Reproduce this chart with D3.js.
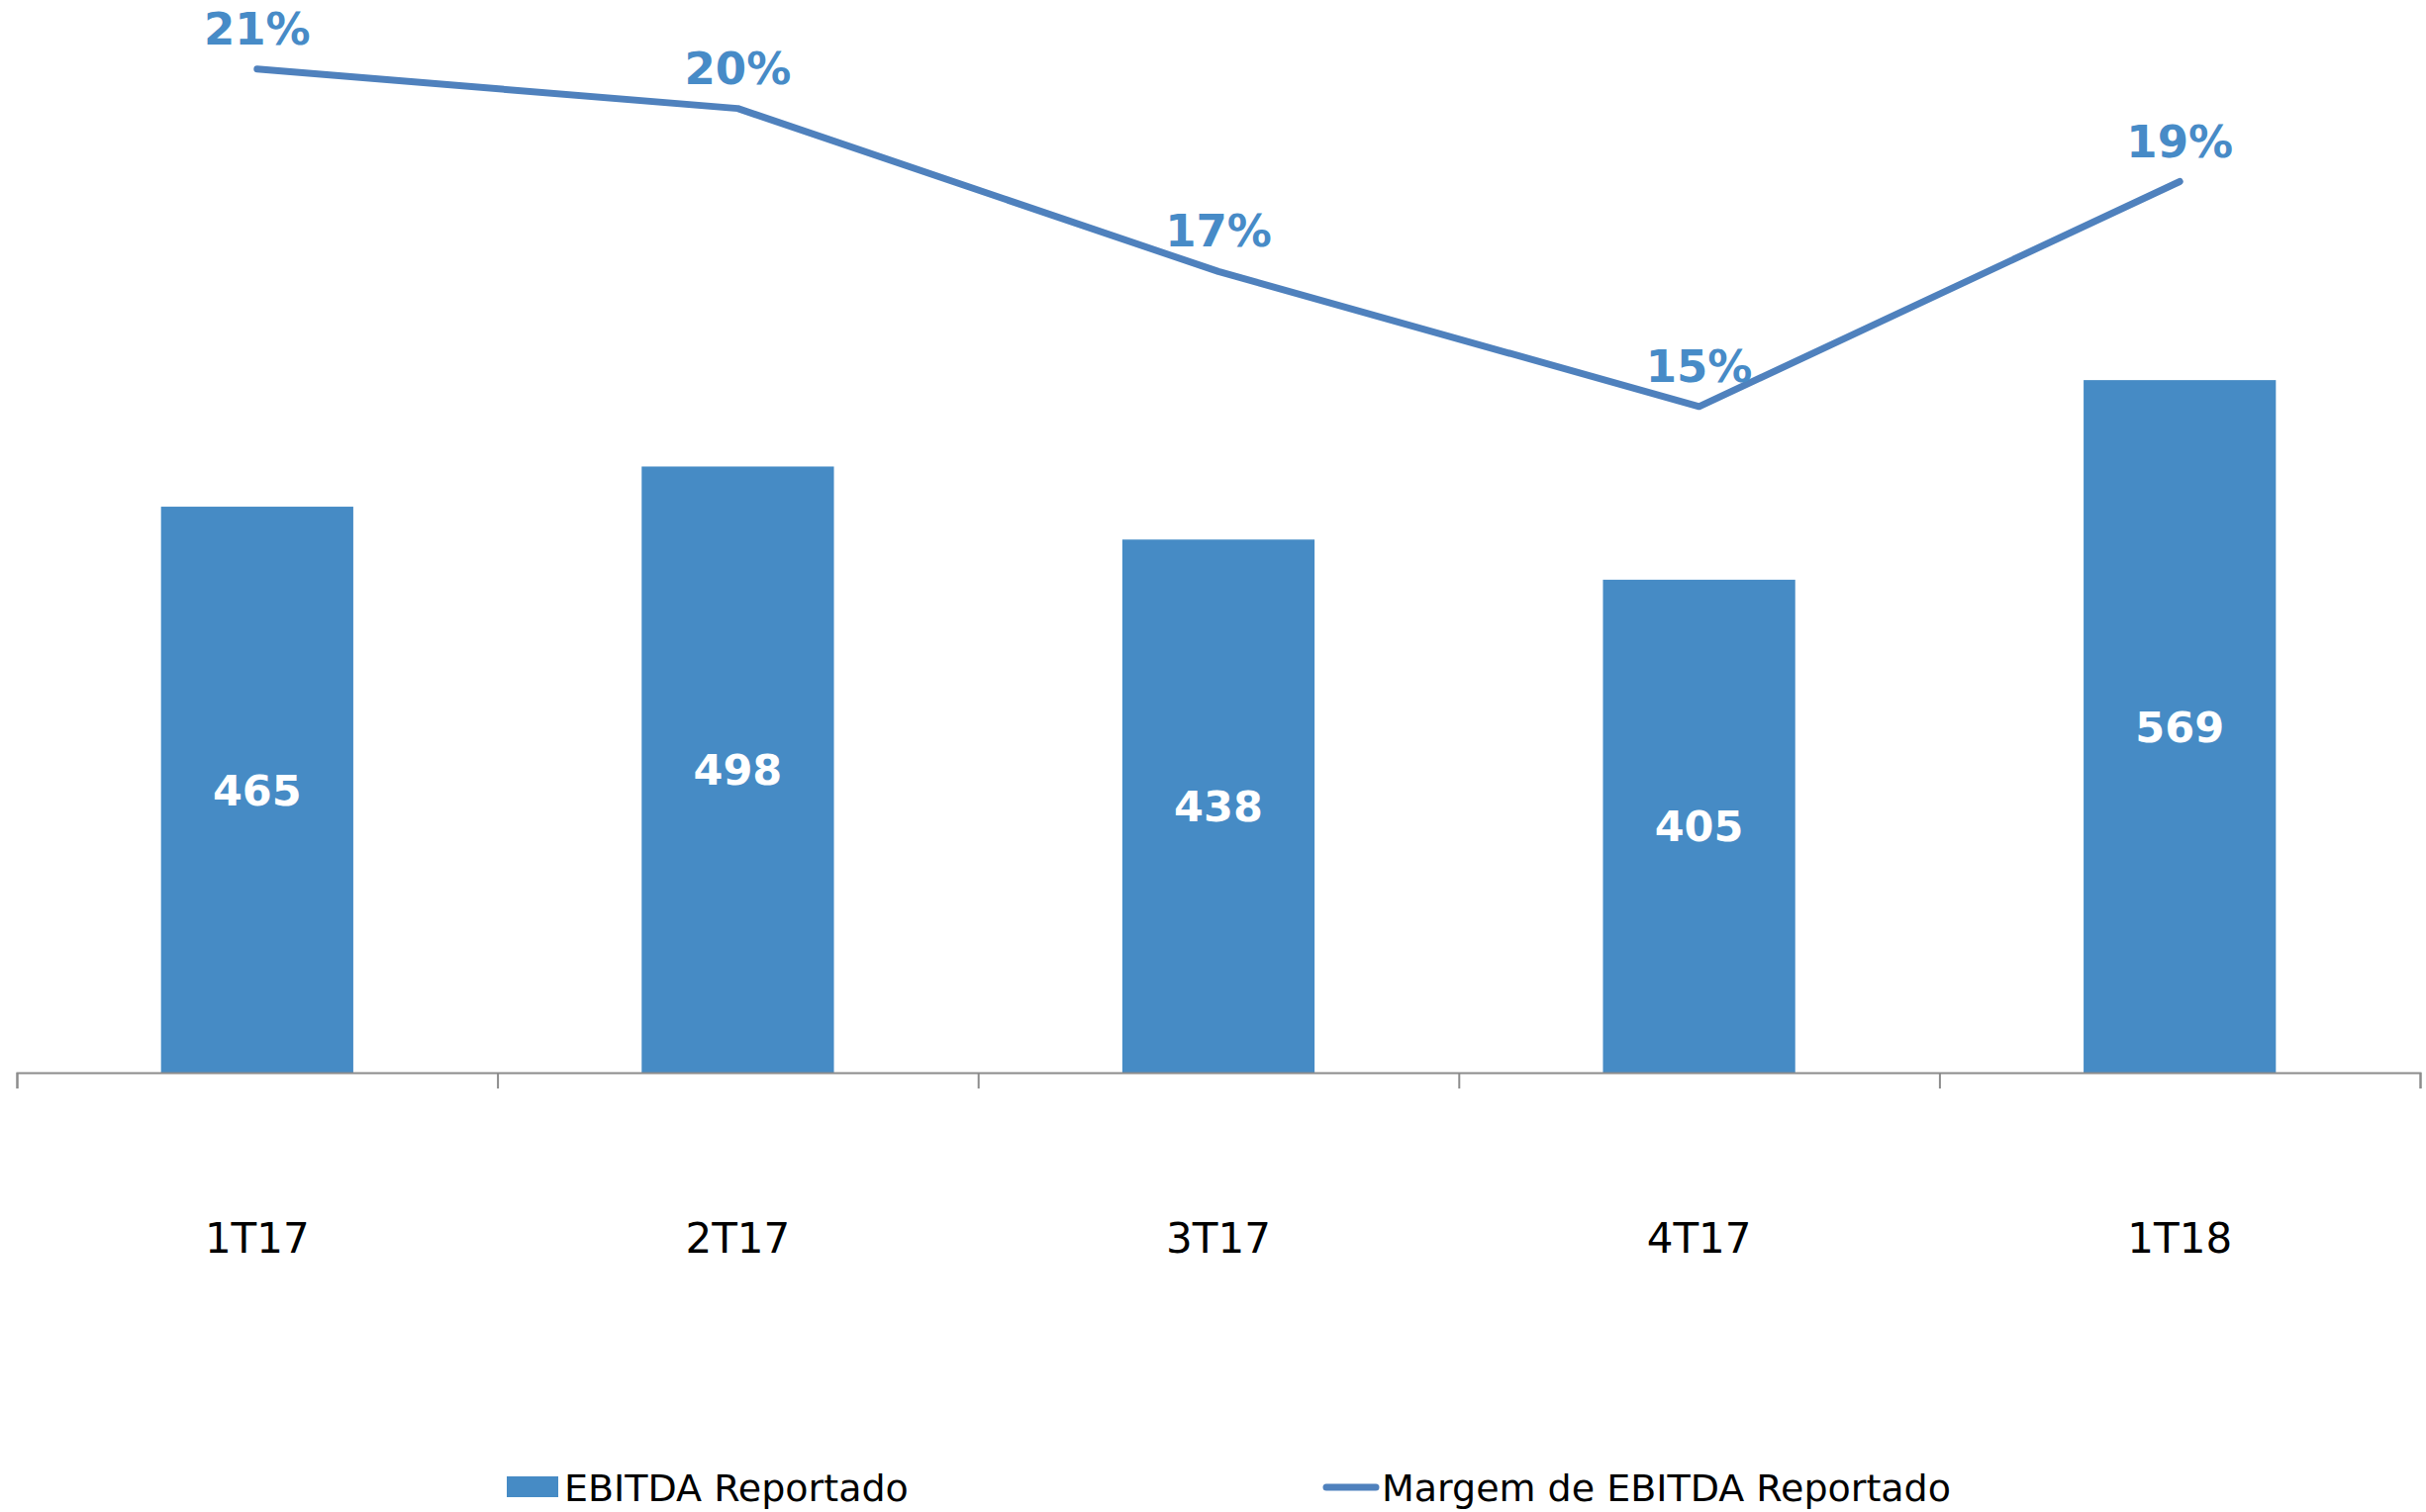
<!DOCTYPE html>
<html><head><meta charset="utf-8">
<script src="https://cdn.jsdelivr.net/npm/d3@7"></script>
<style>html,body{margin:0;padding:0;background:#fff;}</style>
</head><body>
<svg id="chart" width="2451" height="1528"></svg>
<script>
const categories = ["1T17", "2T17", "3T17", "4T17", "1T18"];
const ebitda = [465, 498, 438, 405, 569];
const margin = [0.21, 0.203, 0.174, 0.15, 0.19];
const marginLabels = ["21%", "20%", "17%", "15%", "19%"];
const seriesNames = ["EBITDA Reportado", "Margem de EBITDA Reportado"];

const barColor = "#468bc5", lineColor = "#4f81bd", labelBlue = "#478bc7";
const svg = d3.select("#chart");
svg.append("rect").attr("width", 2451).attr("height", 1528).attr("fill", "#fff");

const left = 17, right = 2445, baseY = 1084;
const x = d3.scaleBand().domain(categories).range([left, right]).paddingInner(0.6).paddingOuter(0.3);
const y = d3.scaleLinear().domain([0, 800]).range([baseY, 100]);
const y2 = d3.scaleLinear().domain([0.10, 0.22]).range([695, 13]);

// bars
svg.selectAll("rect.bar").data(categories).enter().append("rect")
  .attr("class", "bar")
  .attr("x", d => x(d)).attr("width", x.bandwidth())
  .attr("y", (d, i) => y(ebitda[i])).attr("height", (d, i) => baseY - y(ebitda[i]))
  .attr("fill", barColor);

// bar labels
svg.selectAll("text.bl").data(categories).enter().append("text")
  .attr("class", "bl")
  .attr("x", d => x(d) + x.bandwidth() / 2)
  .attr("y", (d, i) => (y(ebitda[i]) + baseY) / 2)
  .attr("dy", "0.36em")
  .attr("text-anchor", "middle")
  .attr("font-family", "DejaVu Sans, Verdana, sans-serif")
  .attr("font-weight", "bold").attr("font-size", 43)
  .attr("fill", "#fff")
  .text((d, i) => ebitda[i]);

// axis with boundary ticks
const xb = d3.scaleLinear().domain([0, categories.length]).range([left, right]);
const axis = svg.append("g").attr("transform", `translate(0,${baseY})`)
  .call(d3.axisBottom(xb).tickValues(d3.range(0, categories.length + 1)).tickFormat("").tickSize(16).tickSizeOuter(16));
axis.selectAll("path,line").attr("stroke", "#8c8c8c").attr("stroke-width", 2);

// category labels
svg.selectAll("text.cat").data(categories).enter().append("text")
  .attr("class", "cat")
  .attr("x", d => x(d) + x.bandwidth() / 2)
  .attr("y", 1251).attr("dy", "0.36em")
  .attr("text-anchor", "middle")
  .attr("font-family", "DejaVu Sans, Verdana, sans-serif")
  .attr("font-size", 42).attr("fill", "#000")
  .text(d => d);

// line
const line = d3.line().x((d, i) => x(categories[i]) + x.bandwidth() / 2).y(d => y2(d));
svg.append("path").datum(margin).attr("d", line)
  .attr("fill", "none").attr("stroke", lineColor).attr("stroke-width", 7)
  .attr("stroke-linecap", "round").attr("stroke-linejoin", "round");

// line labels
svg.selectAll("text.ml").data(categories).enter().append("text")
  .attr("class", "ml")
  .attr("x", d => x(d) + x.bandwidth() / 2)
  .attr("y", (d, i) => y2(margin[i]) - 25)
  .attr("text-anchor", "middle")
  .attr("font-family", "DejaVu Sans, Verdana, sans-serif")
  .attr("font-weight", "bold").attr("font-size", 45)
  .attr("fill", labelBlue)
  .text((d, i) => marginLabels[i]);

// legend
const legY = 1503;
const lg = svg.append("g");
lg.append("rect").attr("x", 512).attr("y", legY - 11).attr("width", 52).attr("height", 21).attr("fill", barColor);
lg.append("text").attr("x", 570).attr("y", legY).attr("dy", "0.36em")
  .attr("font-family", "DejaVu Sans, Verdana, sans-serif").attr("font-size", 38).attr("fill", "#000")
  .text(seriesNames[0]);
lg.append("line").attr("x1", 1340).attr("x2", 1390).attr("y1", legY).attr("y2", legY)
  .attr("stroke", lineColor).attr("stroke-width", 7).attr("stroke-linecap", "round");
lg.append("text").attr("x", 1396).attr("y", legY).attr("dy", "0.36em")
  .attr("font-family", "DejaVu Sans, Verdana, sans-serif").attr("font-size", 38).attr("fill", "#000")
  .text(seriesNames[1]);
</script>
</body></html>
